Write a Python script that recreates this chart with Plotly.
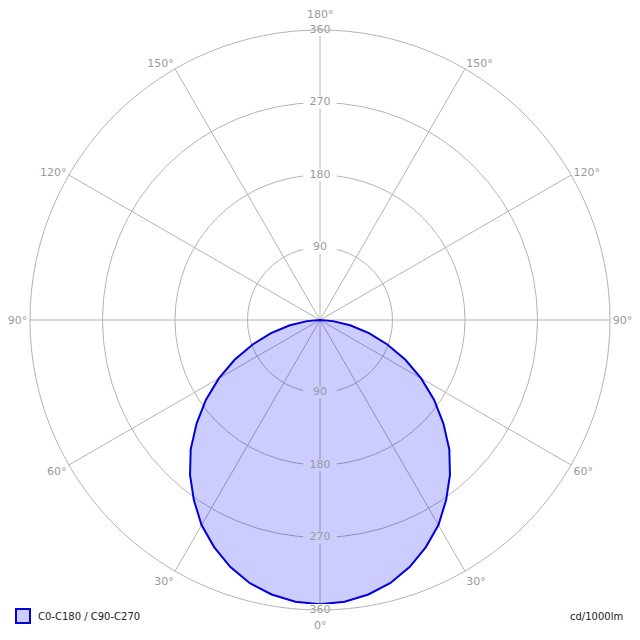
import plotly.graph_objects as go

# Luminous intensity (cd/1000lm) at gamma angles 0..90 (symmetric both sides)
gamma = [0, 5, 10, 15, 20, 25, 30, 35, 40, 45, 50, 55, 60, 65, 70, 75, 80, 85, 90]
intensity = [353, 351, 346, 338, 326, 311, 294, 273, 251, 227, 200, 173, 145, 117, 89, 63, 38, 16, 0]

angle_ticks = [0, 30, 60, 90, 120, 150, 180, 210, 240, 270, 300, 330]
angle_labels = ["0°", "30°", "60°", "90°", "120°", "150°", "180°", "150°", "120°", "90°", "60°", "30°"]
radial_ticks = [90, 180, 270, 360]

series_name = "C0-C180 / C90-C270"
unit_label = "cd/1000lm"

FONT = "DejaVu Sans"
GRID = "#b4b4b4"
LABEL = "#9a9a9a"
FILL = "rgba(0,0,255,0.2)"
FILL_SOLID = "rgb(204,204,255)"
LINE = "#0000dd"

# full closed curve: -90..90
theta = [360 - g for g in gamma[::-1][:-1]] + gamma
r = intensity[::-1][:-1] + intensity

fig = go.Figure()
fig.add_trace(go.Scatterpolar(
    theta=theta, r=r, mode="lines", fill="toself",
    fillcolor=FILL, line=dict(color=LINE, width=2),
    name=series_name, showlegend=False, hoverinfo="skip",
))

# radial labels along the vertical axis (top and bottom)
lab_theta = [180] * len(radial_ticks) + [0] * len(radial_ticks)
lab_r = radial_ticks + radial_ticks
lab_text = [str(v) for v in radial_ticks] * 2
bg = ["white"] * len(radial_ticks) + [FILL_SOLID if v <= max(intensity) else "white" for v in radial_ticks]
fig.add_trace(go.Scatterpolar(
    theta=lab_theta, r=lab_r, mode="markers+text", text=lab_text,
    textposition="middle center",
    textfont=dict(family=FONT, size=11, color=LABEL),
    marker=dict(symbol="line-ew", size=24, color=bg, line=dict(width=12, color=bg)),
    cliponaxis=False, showlegend=False, hoverinfo="skip",
))

# 0° / 180° labels placed a bit further out than plotly's default
top_label = angle_labels[angle_ticks.index(180)]
bottom_label = angle_labels[angle_ticks.index(0)]
shown_labels = ["" if t in (0, 180) else l for t, l in zip(angle_ticks, angle_labels)]

fig.update_layout(
    width=632, height=632,
    margin=dict(l=22, r=30, t=22, b=30),
    paper_bgcolor="white",
    font=dict(family=FONT, size=11, color=LABEL),
    showlegend=False,
    polar=dict(
        domain=dict(x=[0, 1], y=[0, 1]),
        bgcolor="white",
        angularaxis=dict(
            rotation=270, direction="clockwise",
            tickmode="array", tickvals=angle_ticks, ticktext=shown_labels,
            showline=True, linecolor=GRID, linewidth=1,
            gridcolor=GRID, gridwidth=1, ticks="",
            tickfont=dict(family=FONT, size=11, color=LABEL),
        ),
        radialaxis=dict(
            range=[0, 360], tickmode="array", tickvals=radial_ticks,
            showticklabels=False, showline=False, ticks="",
            gridcolor=GRID, gridwidth=1,
        ),
    ),
    shapes=[dict(
        type="rect", xref="paper", yref="paper",
        xsizemode="pixel", ysizemode="pixel",
        xanchor=0, yanchor=0, x0=-14, x1=0, y0=-13, y1=1,
        fillcolor=FILL_SOLID, line=dict(color=LINE, width=2),
    )],
    annotations=[
        dict(text=top_label, xref="paper", yref="paper", x=0.5, y=1,
             xanchor="center", yanchor="middle", showarrow=False, yshift=16,
             font=dict(family=FONT, size=11, color=LABEL)),
        dict(text=bottom_label, xref="paper", yref="paper", x=0.5, y=0,
             xanchor="center", yanchor="middle", showarrow=False, yshift=-15,
             font=dict(family=FONT, size=11, color=LABEL)),
        dict(text=series_name, xref="paper", yref="paper", x=0, y=0,
             xanchor="left", yanchor="middle", showarrow=False,
             xshift=6, yshift=-6,
             font=dict(family=FONT, size=10, color="#222")),
        dict(text=unit_label, xref="paper", yref="paper", x=1, y=0,
             xanchor="right", yanchor="middle", showarrow=False,
             xshift=15, yshift=-6,
             font=dict(family=FONT, size=10, color="#222")),
    ],
)

fig.write_html("out.html")
